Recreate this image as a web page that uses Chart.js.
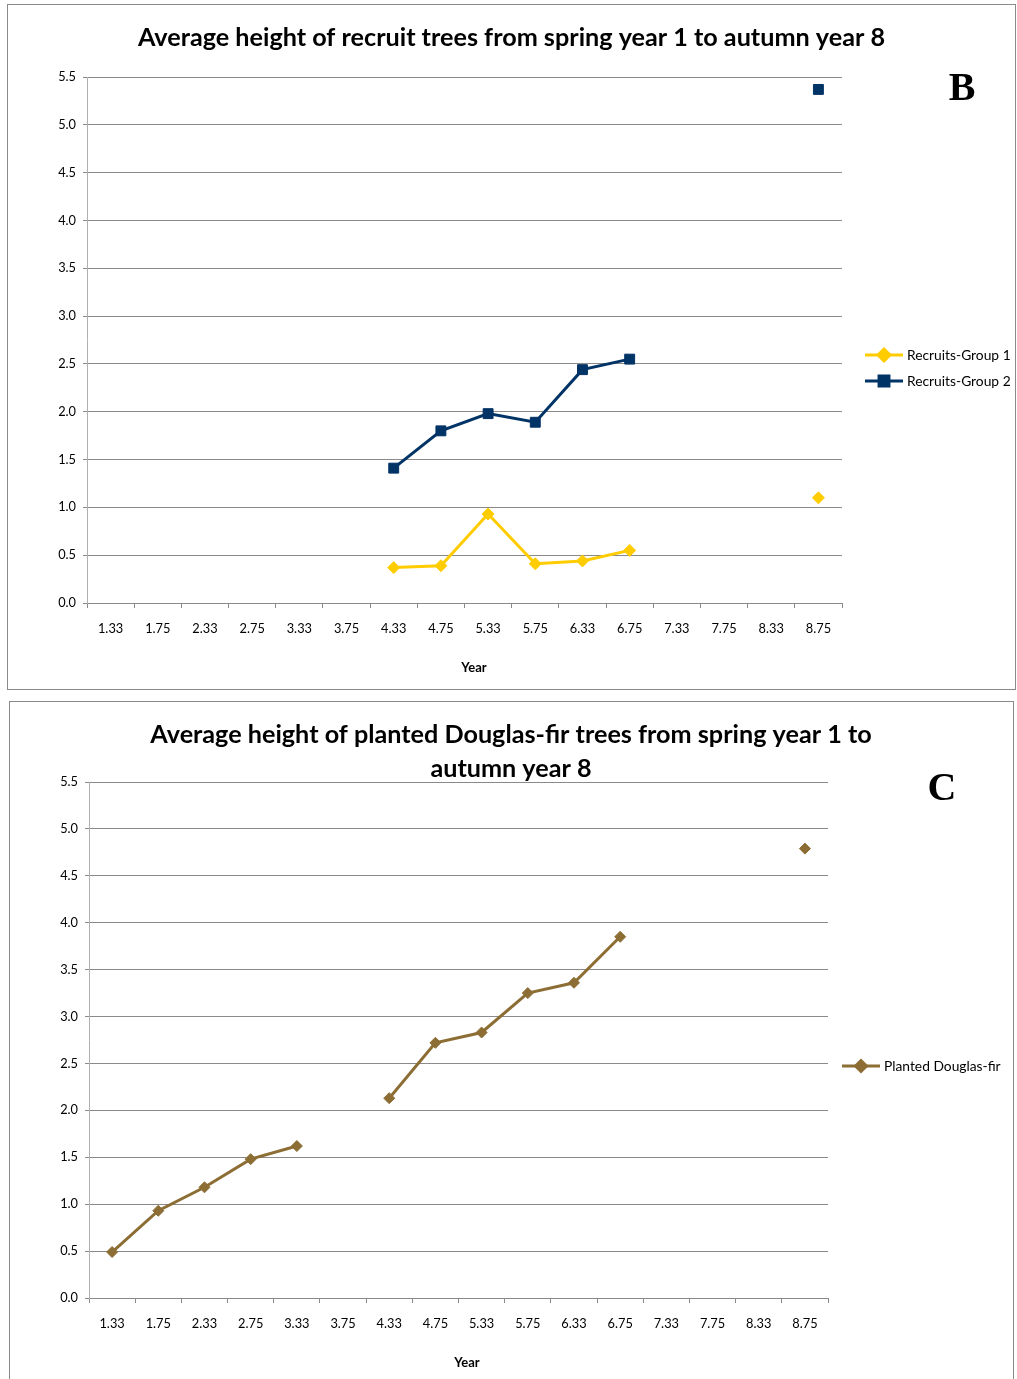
<!DOCTYPE html>
<html>
<head>
<meta charset="utf-8">
<script src="https://cdn.jsdelivr.net/npm/chart.js@4.4.1/dist/chart.umd.min.js"></script>
<style>
  body { margin: 0; background: #fff; width: 1017px; height: 1379px; overflow: hidden; position: relative; }
  .panel { position: absolute; border: 1px solid #8a8a8a; box-sizing: border-box; background: #fff; }
  #panelB { left: 7px; top: 4px; width: 1009px; height: 686px; }
  #panelC { left: 9px; top: 701px; width: 1005px; height: 700px; }
  canvas { position: absolute; left: 0; top: 0; }
</style>
</head>
<body>
<div class="panel" id="panelB"><canvas id="chartB" width="1007" height="684"></canvas></div>
<div class="panel" id="panelC"><canvas id="chartC" width="1003" height="684"></canvas></div>
<script>
// Survey years (spring / autumn of each year)
const years = ['1.33', '1.75', '2.33', '2.75', '3.33', '3.75', '4.33', '4.75',
               '5.33', '5.75', '6.33', '6.75', '7.33', '7.75', '8.33', '8.75'];

// Average heights (m); null = not measured
const recruitsGroup1 = [null, null, null, null, null, null, 0.37, 0.39, 0.93, 0.41, 0.44, 0.55, null, null, null, 1.10];
const recruitsGroup2 = [null, null, null, null, null, null, 1.41, 1.80, 1.98, 1.89, 2.44, 2.55, null, null, null, 5.37];
const plantedDouglasFir = [0.49, 0.93, 1.18, 1.48, 1.62, null, 2.13, 2.72, 2.83, 3.25, 3.36, 3.85, null, null, null, 4.79];

// Height axis
const heightMin = 0;
const heightMax = 5.5;
const heightStep = 0.5;

const FONT = 'Lato';
const GRID = '#8a8a8a';

// Headings, axis caption, panel letter and legend are drawn by this plugin
const decorations = {
  id: 'decorations',
  afterDraw(chart, args, opts) {
    const ctx = chart.ctx;
    ctx.save();
    ctx.fillStyle = '#000';
    ctx.textAlign = 'center';
    ctx.textBaseline = 'middle';
    // heading
    ctx.font = 'bold ' + opts.titleSize + 'px ' + FONT;
    opts.title.forEach((line, i) => ctx.fillText(line, opts.titleX, opts.titleY + i * opts.titleGap));
    // x axis caption
    ctx.font = 'bold 13px ' + FONT;
    ctx.fillText('Year', opts.captionX, opts.captionY);
    // panel letter
    ctx.font = 'bold 40px "Liberation Serif"';
    ctx.fillText(opts.letter, opts.letterX, opts.letterY);
    // legend
    chart.data.datasets.forEach((ds, i) => {
      const y = opts.legendY + i * 26;
      ctx.strokeStyle = ds.borderColor;
      ctx.lineWidth = 3;
      ctx.beginPath();
      ctx.moveTo(opts.legendX, y);
      ctx.lineTo(opts.legendX + 38, y);
      ctx.stroke();
      ctx.fillStyle = ds.pointBackgroundColor;
      ctx.strokeStyle = ds.pointBorderColor;
      Chart.helpers.drawPoint(ctx, { pointStyle: ds.pointStyle, radius: ds.pointRadius, borderWidth: 1 }, opts.legendX + 19, y);
      ctx.fillStyle = '#000';
      ctx.textAlign = 'left';
      ctx.font = '13.8px ' + FONT;
      ctx.fillText(ds.label, opts.legendX + 42, y + 1);
    });
    ctx.restore();
  }
};

function series(label, data, color, style, radius) {
  return {
    label, data,
    borderColor: color, backgroundColor: color,
    pointBackgroundColor: color, pointBorderColor: color,
    borderWidth: 3, pointStyle: style, pointRadius: radius, pointBorderWidth: 1,
    pointHoverRadius: radius, spanGaps: false, tension: 0, clip: false
  };
}

function buildOptions(cfg) {
  return {
    responsive: false,
    animation: false,
    events: [],
    layout: { padding: { left: 0, right: cfg.padRight, top: cfg.padTop, bottom: 0 } },
    plugins: {
      legend: { display: false },
      title: { display: false },
      tooltip: { enabled: false },
      decorations: cfg.deco
    },
    scales: {
      x: {
        type: 'category',
        offset: true,
        grid: { display: true, offset: true, drawOnChartArea: false, drawTicks: true, tickLength: 5, color: GRID },
        border: { color: GRID },
        ticks: { font: { family: FONT, size: 12.8 }, color: '#000', padding: 13, autoSkip: false, maxRotation: 0 },
        title: { display: false },
        afterFit(s) { s.height = cfg.xHeight; }
      },
      y: {
        min: heightMin, max: heightMax,
        grid: { color: GRID, tickLength: 4 },
        border: { color: '#b0b0b0' },
        ticks: { stepSize: heightStep, font: { family: FONT, size: 12.8 }, color: '#000', padding: 7,
                 callback: v => Number(v).toFixed(1) },
        afterFit(s) { s.width = 79; }
      }
    }
  };
}

new Chart(document.getElementById('chartB'), {
  type: 'line',
  data: {
    labels: years,
    datasets: [
      series('Recruits-Group 1', recruitsGroup1, '#FFCC00', 'rectRot', 6),
      series('Recruits-Group 2', recruitsGroup2, '#003366', 'rect', 7)
    ]
  },
  options: buildOptions({
    padRight: 173, padTop: 72, xHeight: 86,
    deco: {
      title: ['Average height of recruit trees from spring year 1 to autumn year 8'],
      titleSize: 25.2, titleX: 503.5, titleY: 33, titleGap: 34,
      captionX: 466, captionY: 663,
      letter: 'B', letterX: 954, letterY: 85,
      legendX: 857, legendY: 350
    }
  }),
  plugins: [decorations]
});

new Chart(document.getElementById('chartC'), {
  type: 'line',
  data: {
    labels: years,
    datasets: [
      series('Planted Douglas-fir', plantedDouglasFir, '#8C6D34', 'rectRot', 5.5)
    ]
  },
  options: buildOptions({
    padRight: 185, padTop: 80, xHeight: 88,
    deco: {
      title: ['Average height of planted Douglas-fir trees from spring year 1 to', 'autumn year 8'],
      titleSize: 25.2, titleX: 501, titleY: 33, titleGap: 34,
      captionX: 457, captionY: 661,
      letter: 'C', letterX: 932, letterY: 88,
      legendX: 832, legendY: 364
    }
  }),
  plugins: [decorations]
});
</script>
</body>
</html>
